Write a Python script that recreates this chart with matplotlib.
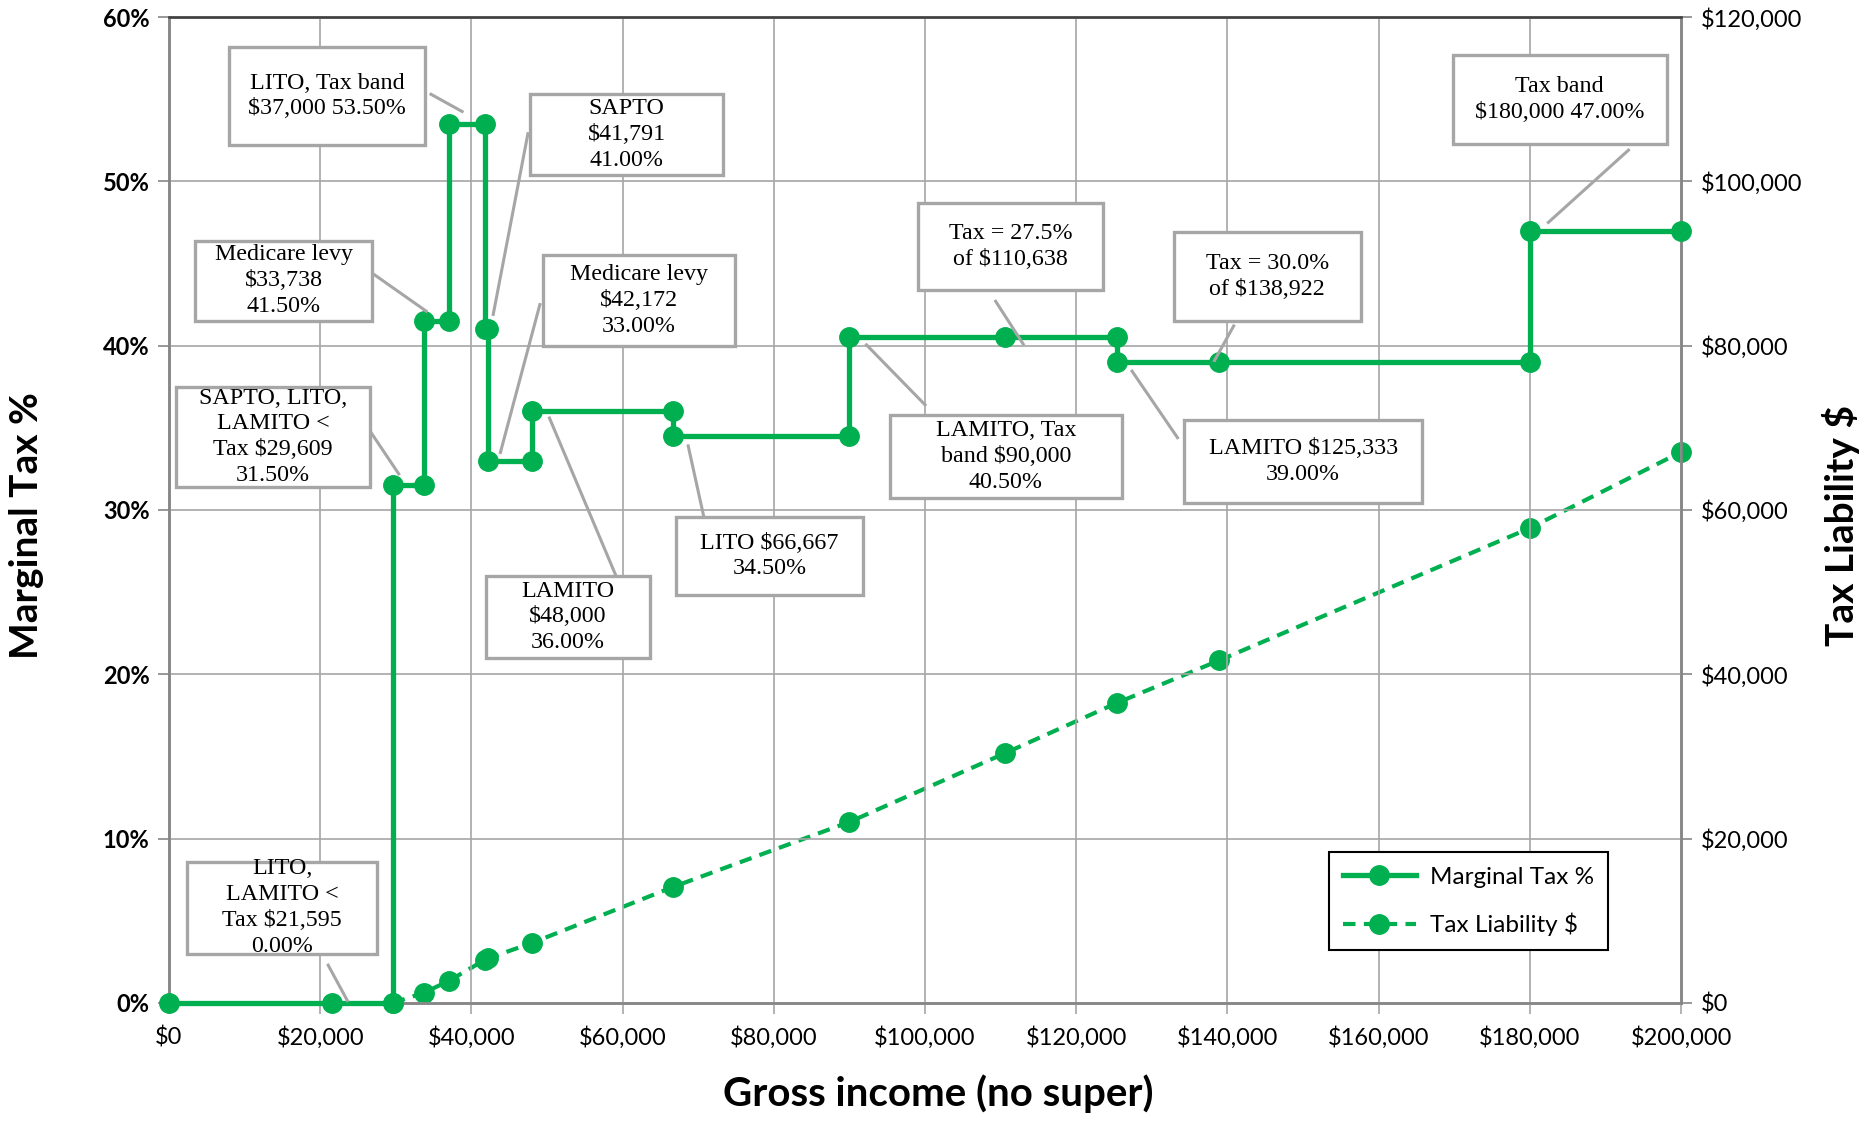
import matplotlib
matplotlib.use("Agg")
import matplotlib.pyplot as plt
from matplotlib.patches import Rectangle
from matplotlib.ticker import FuncFormatter, MultipleLocator

plt.rcParams['font.family'] = ['Lato', 'DejaVu Sans']

# marginal tax rate step line (income $, marginal %)
income_pts = [0, 21595, 29609, 29609, 33738, 33738, 37000, 37000, 41791, 41791,
              42172, 42172, 48000, 48000, 66667, 66667, 90000, 90000, 110638,
              125333, 125333, 138922, 180000, 180000, 200000]
marginal_pct = [0, 0, 0, 31.5, 31.5, 41.5, 41.5, 53.5, 53.5, 41.0,
                41.0, 33.0, 33.0, 36.0, 36.0, 34.5, 34.5, 40.5, 40.5,
                40.5, 39.0, 39.0, 39.0, 47.0, 47.0]

# total tax liability ($)
liab_income = [29609, 33738, 37000, 41791, 42172, 48000, 66667, 90000, 110638,
               125333, 138922, 180000, 200000]
liab_dollars = [0, 1250, 2680, 5250, 5420, 7300, 14120, 22030, 30425,
                36500, 41700, 57800, 67060]

x_ticks = list(range(0, 200001, 20000))

callout_texts = [
    "LITO, Tax band\n$37,000 53.50%",
    "SAPTO\n$41,791\n41.00%",
    "Medicare levy\n$33,738\n41.50%",
    "Medicare levy\n$42,172\n33.00%",
    "SAPTO, LITO,\nLAMITO <\nTax $29,609\n31.50%",
    "LAMITO\n$48,000\n36.00%",
    "LITO $66,667\n34.50%",
    "Tax = 27.5%\nof $110,638",
    "LAMITO, Tax\nband $90,000\n40.50%",
    "Tax = 30.0%\nof $138,922",
    "LAMITO $125,333\n39.00%",
    "Tax band\n$180,000 47.00%",
    "LITO,\nLAMITO <\nTax $21,595\n0.00%",
]

# callout layout: box (x0, x1, y0%, y1%), leader (x start, y start, x end, y end)
callout_boxes = [
    (7900, 33900, 52.2, 58.2),
    (47800, 73300, 50.4, 55.3),
    (3500, 26900, 41.5, 46.4),
    (49400, 74800, 40.0, 45.5),
    (950, 26600, 31.4, 37.5),
    (41900, 63600, 21.0, 26.0),
    (67100, 91800, 24.8, 29.6),
    (99100, 123600, 43.4, 48.7),
    (95400, 126000, 30.7, 35.8),
    (132900, 157600, 41.5, 46.9),
    (134300, 165700, 30.4, 35.5),
    (169800, 198100, 52.3, 57.7),
    (2400, 27500, 3.0, 8.6),
]
callout_leaders = [
    (34650, 55.3, 38770, 54.25),
    (47470, 52.9, 42880, 41.9),
    (27220, 44.3, 34020, 42.1),
    (49050, 42.5, 43830, 33.5),
    (26740, 34.7, 30380, 32.2),
    (59020, 26.1, 50320, 35.6),
    (70730, 29.6, 68670, 33.9),
    (109340, 42.7, 112980, 40.1),
    (100000, 36.4, 92250, 40.05),
    (140820, 41.2, 138290, 39.1),
    (133390, 34.4, 127380, 38.45),
    (193040, 51.9, 182440, 47.5),
    (21050, 2.3, 23580, 0.15),
]

green = '#00b050'
grid_c = '#a6a6a6'
spine_c = '#868686'

fig = plt.figure(figsize=(18.76, 11.21), dpi=100)
ax = fig.add_axes([0.0901, 0.1053, 0.806, 0.8795])
ax2 = ax.twinx()

ax.plot(income_pts, marginal_pct, color=green, lw=3.8, marker='o', ms=14,
        label='Marginal Tax %', zorder=5, clip_on=False)
ax2.plot(liab_income, liab_dollars, color=green, lw=3, ls=(0, (3, 2)), marker='o', ms=14,
         label='Tax Liability $', zorder=5, clip_on=False)

ax.set_xlim(0, 200000)
ax.set_ylim(0, 60)
ax2.set_ylim(0, 120000)
ax.set_xticks(x_ticks)
ax.yaxis.set_major_locator(MultipleLocator(10))
ax2.yaxis.set_major_locator(MultipleLocator(20000))

ax.xaxis.set_major_formatter(FuncFormatter(lambda v, p: f"${v:,.0f}"))
ax.yaxis.set_major_formatter(FuncFormatter(lambda v, p: f"{v:.0f}%"))
ax2.yaxis.set_major_formatter(FuncFormatter(lambda v, p: f"${v:,.0f}"))

ax.grid(True, color=grid_c, lw=1.2, zorder=0)
ax.set_axisbelow(True)

for a in (ax, ax2):
    for s in a.spines.values():
        s.set_color(spine_c)
        s.set_linewidth(1.8)
ax.spines['top'].set_color('#404040')

ax.tick_params(axis='x', colors=grid_c, length=8, width=1.2, labelsize=17,
               labelcolor='black', pad=9)
ax.tick_params(axis='y', colors=spine_c, length=8, width=1.2, labelsize=17,
               labelcolor='black', pad=6)
ax2.tick_params(axis='y', colors=spine_c, length=8, width=1.2, labelsize=17,
                labelcolor='black', pad=6)
for lbl in ax.get_yticklabels():
    lbl.set_fontweight('bold')

ax.set_xlabel('Gross income (no super)', fontsize=29, fontweight='bold')
ax.xaxis.set_label_coords(0.509, -0.092)
ax.xaxis.label.set_va('center')
ax.set_ylabel('Marginal Tax %', fontsize=28, fontweight='bold')
ax.yaxis.set_label_coords(-0.094, 0.484)
ax.yaxis.label.set_va('center')
ax2.set_ylabel('Tax Liability $', fontsize=28, fontweight='bold', rotation=90)
ax2.yaxis.set_label_coords(1.106, 0.484)
ax2.yaxis.label.set_va('center')

ax.set_zorder(ax2.get_zorder() + 1)
ax.patch.set_visible(False)

for txt, (x0, x1, y0, y1), (sx, sy, ex, ey) in zip(callout_texts, callout_boxes, callout_leaders):
    ax.plot([sx, ex], [sy, ey], color=grid_c, lw=2.2, zorder=9, clip_on=False)
    ax.add_patch(Rectangle((x0, y0), x1 - x0, y1 - y0, fc='white', ec=grid_c,
                           lw=2.4, zorder=10))
    ax.text((x0 + x1) / 2, (y0 + y1) / 2, txt, ha='center', va='center',
            fontsize=17.3, family='Liberation Serif', linespacing=1.3, zorder=11)

h1, l1 = ax.get_legend_handles_labels()
h2, l2 = ax2.get_legend_handles_labels()
leg = ax.legend(h1 + h2, l1 + l2, loc='lower right', bbox_to_anchor=(0.960, 0.041),
                fontsize=17.5, handlelength=3, fancybox=False, edgecolor='black',
                framealpha=1, borderpad=0.58, labelspacing=1.04, handletextpad=0.6)
leg.get_frame().set_linewidth(1.5)
leg.set_zorder(20)

fig.savefig('out.png', dpi=100)
